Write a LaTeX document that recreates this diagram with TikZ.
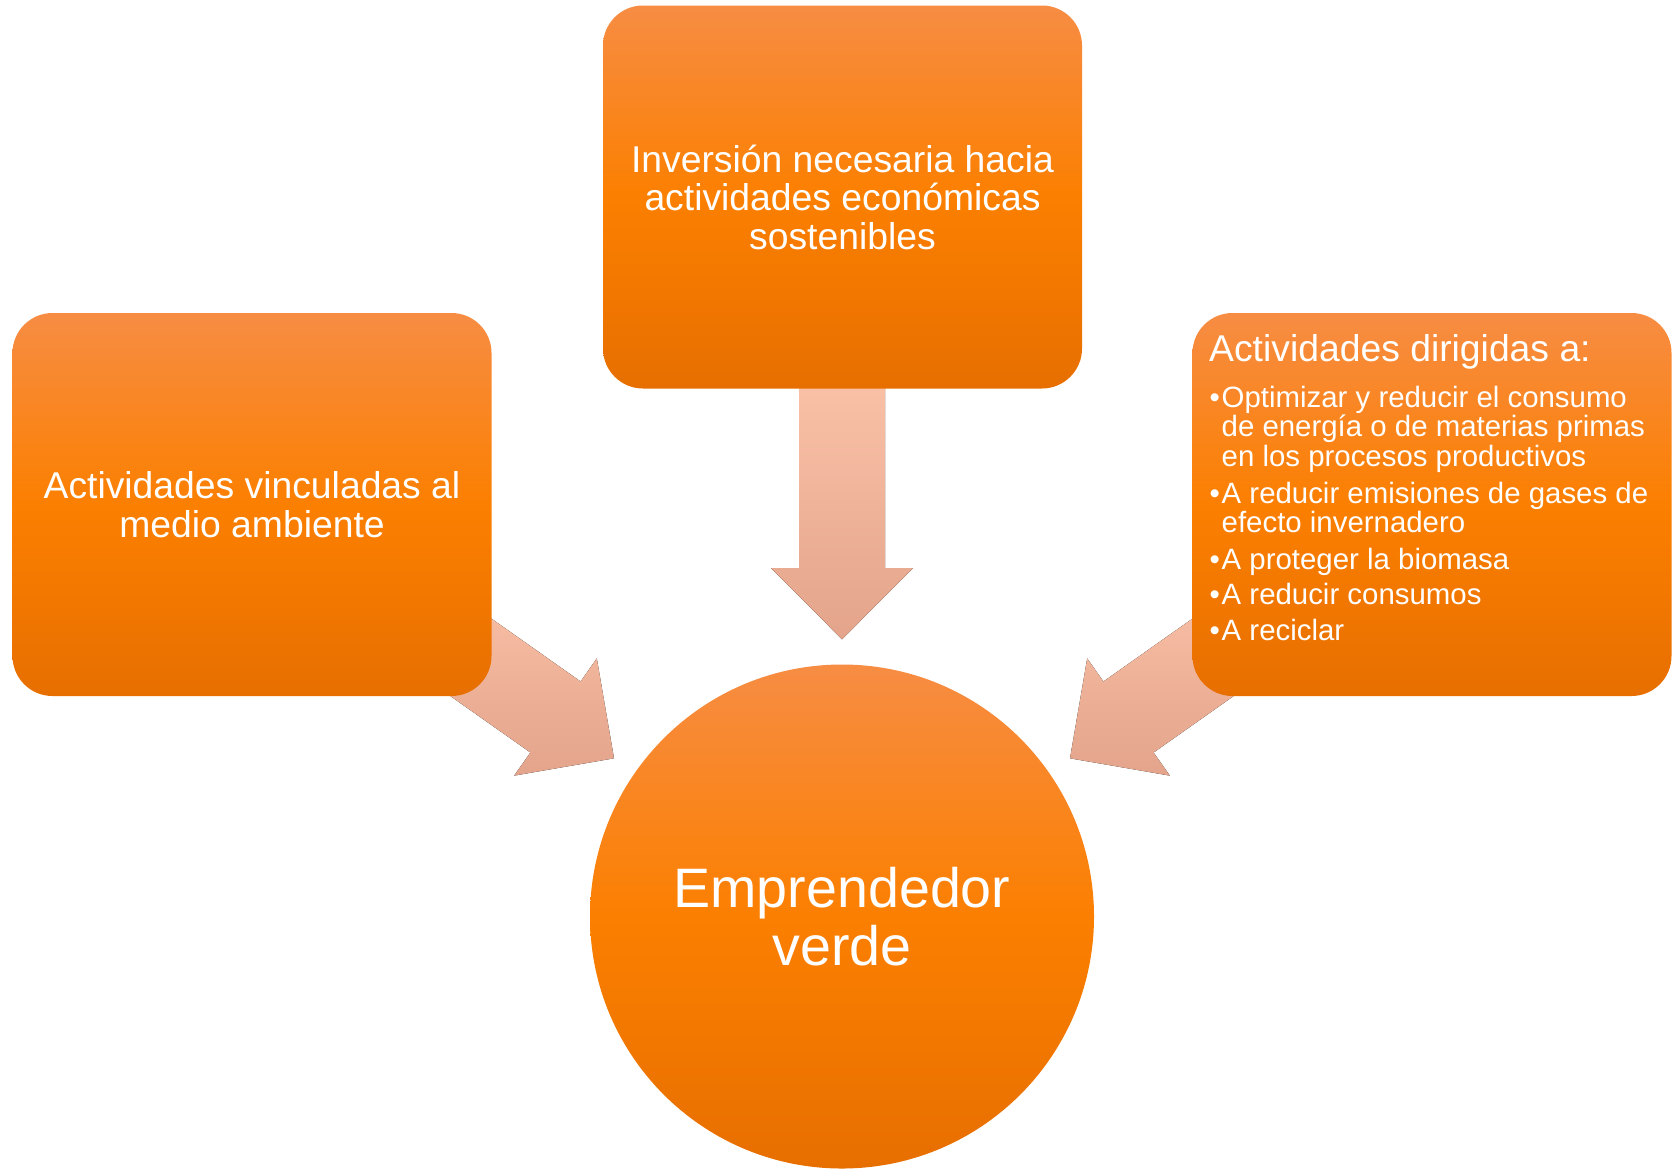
\documentclass[tikz,border=0pt]{standalone}
\usepackage{fontspec}
\setmainfont{Liberation Sans}
\usetikzlibrary{backgrounds}
\definecolor{otop}{RGB}{247,141,68}
\definecolor{omid}{RGB}{251,127,0}
\definecolor{obot}{RGB}{231,111,0}
\definecolor{atop}{RGB}{250,193,167}
\definecolor{abot}{RGB}{227,164,139}
\begin{document}
\begin{tikzpicture}[x=1pt,y=-1pt,
  shadeorange/.style={top color=otop,bottom color=obot,middle color=omid},
  box/.style={shadeorange,rounded corners=40pt,minimum width=479pt,minimum height=383pt,
    text=white,align=center,inner sep=0pt,font=\fontsize{37.3}{38.5}\selectfont},
  hub/.style={shadeorange,circle,minimum size=504pt,inner sep=0pt,text=white,align=center,
    font=\fontsize{55.6}{57.5}\selectfont},
  blockarrow/.style={top color=atop,bottom color=abot,draw=none},
  ttl/.style={anchor=base west,inner sep=0pt,text=white,font=\fontsize{37.3}{38.5}\selectfont},
  itm/.style={anchor=base west,inner sep=0pt,text=white,font=\fontsize{29.4}{30}\selectfont}]
\useasboundingbox (0,0) rectangle (1675,1171);
% nodes
\node[box] (top) at (842.5,197) {Inversión necesaria hacia\\actividades económicas\\sostenibles};
\node[box] (left) at (252,504.5) {Actividades vinculadas al\\medio ambiente};
\node[box] (right) at (1432,504.5) {};
\node[hub] (hub) at (842,916.5) {Emprendedor\\verde};
% right box text
\node[ttl] (rt) at (1209,361) {Actividades dirigidas a:};
\node[itm] (r1) at (1209.5,407.3) {\makebox[12pt][l]{•}Optimizar y reducir el consumo};
\node[itm] (r1b) at (1221.5,436.7) {de energía o de materias primas};
\node[itm] (r1c) at (1221.5,466.7) {en los procesos productivos};
\node[itm] (r2) at (1209.5,503.3) {\makebox[12pt][l]{•}A reducir emisiones de gases de};
\node[itm] (r2b) at (1221.5,532.7) {efecto invernadero};
\node[itm] (r3) at (1209.5,569.3) {\makebox[12pt][l]{•}A proteger la biomasa};
\node[itm] (r4) at (1209.5,604.3) {\makebox[12pt][l]{•}A reducir consumos};
\node[itm] (r5) at (1209.5,640) {\makebox[12pt][l]{•}A reciclar};
% block arrows behind the boxes
\begin{scope}[on background layer]
\fill[blockarrow] (799,380) -- (799,568) -- (771,568) -- (842,639.3) -- (913,568) -- (885,568) -- (885,380) -- cycle;
\fill[blockarrow] (433.5,577.7) -- (580.6,681.5) -- (596.8,658.4) -- (614,758.3) -- (514.2,775.6) -- (530.4,752.5) -- (383.3,648.7) -- cycle;
\fill[blockarrow] (1250.5,577.7) -- (1103.4,681.5) -- (1087.2,658.4) -- (1070,758.3) -- (1169.8,775.6) -- (1153.6,752.5) -- (1300.7,648.7) -- cycle;
\end{scope}
\end{tikzpicture}
\end{document}
